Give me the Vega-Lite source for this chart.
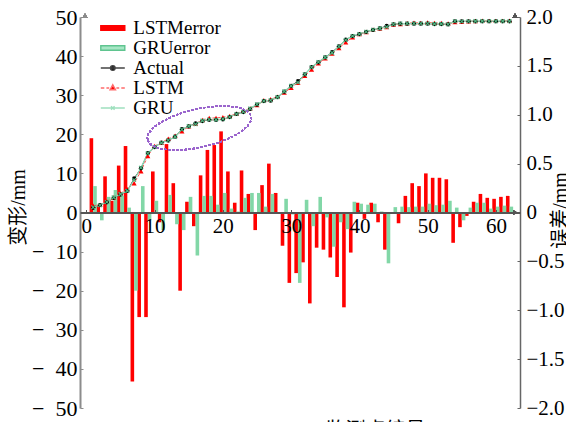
{
  "$schema": "https://vega.github.io/schema/vega-lite/v6.json",
  "width": 440,
  "height": 391,
  "autosize": {"type": "none"},
  "padding": {"left": 80, "top": 17, "right": 46, "bottom": 14},
  "background": "white",
  "config": {"view": {"stroke": null}, "font": "Liberation Serif", "axis": {"grid": false, "labelOverlap": false}},
  "datasets": {
    "d": [
      {"i":1,"a":1.2,"l":1.73,"g":1.34,"le":0.76,"ge":0.27},
      {"i":2,"a":1.9,"l":1.96,"g":1.86,"le":0.08,"ge":-0.08},
      {"i":3,"a":2.6,"l":2.86,"g":2.68,"le":0.37,"ge":0.16},
      {"i":4,"a":3.75,"l":3.83,"g":3.87,"le":0.12,"ge":0.23},
      {"i":5,"a":4.6,"l":4.94,"g":4.69,"le":0.48,"ge":0.17},
      {"i":6,"a":5.5,"l":5.98,"g":5.53,"le":0.68,"ge":0.05},
      {"i":7,"a":8.7,"l":7.49,"g":8.3,"le":-1.73,"ge":-0.8},
      {"i":8,"a":11.3,"l":10.55,"g":11.44,"le":-1.07,"ge":0.27},
      {"i":9,"a":15.2,"l":14.45,"g":15.16,"le":-1.07,"ge":-0.08},
      {"i":10,"a":16.7,"l":16.99,"g":16.76,"le":0.42,"ge":0.12},
      {"i":11,"a":17.9,"l":17.83,"g":17.81,"le":-0.1,"ge":-0.18},
      {"i":12,"a":18.4,"l":18.89,"g":18.49,"le":0.7,"ge":0.18},
      {"i":13,"a":19.4,"l":19.61,"g":19.34,"le":0.3,"ge":-0.12},
      {"i":14,"a":21.3,"l":20.74,"g":21.21,"le":-0.8,"ge":-0.18},
      {"i":15,"a":22.0,"l":22.08,"g":22.08,"le":0.11,"ge":0.16},
      {"i":16,"a":22.8,"l":22.7,"g":22.58,"le":-0.14,"ge":-0.44},
      {"i":17,"a":23.4,"l":23.67,"g":23.49,"le":0.38,"ge":0.17},
      {"i":18,"a":23.7,"l":24.15,"g":23.79,"le":0.64,"ge":0.17},
      {"i":19,"a":23.7,"l":24.18,"g":23.74,"le":0.69,"ge":0.08},
      {"i":20,"a":23.8,"l":24.38,"g":23.9,"le":0.83,"ge":0.2},
      {"i":21,"a":24.4,"l":24.69,"g":24.42,"le":0.42,"ge":0.04},
      {"i":22,"a":25.2,"l":25.27,"g":25.2,"le":0.1,"ge":0.01},
      {"i":23,"a":25.7,"l":26.0,"g":25.78,"le":0.43,"ge":0.15},
      {"i":24,"a":26.5,"l":26.63,"g":26.6,"le":0.19,"ge":0.2},
      {"i":25,"a":27.6,"l":27.47,"g":27.7,"le":-0.18,"ge":0.2},
      {"i":26,"a":28.5,"l":28.7,"g":28.53,"le":0.28,"ge":0.06},
      {"i":27,"a":28.6,"l":28.95,"g":28.7,"le":0.5,"ge":0.19},
      {"i":28,"a":29.5,"l":29.64,"g":29.5,"le":0.2,"ge":0.0},
      {"i":29,"a":30.9,"l":30.66,"g":30.97,"le":-0.34,"ge":0.14},
      {"i":30,"a":32.4,"l":31.9,"g":32.39,"le":-0.72,"ge":-0.02},
      {"i":31,"a":33.6,"l":33.17,"g":33.24,"le":-0.62,"ge":-0.72},
      {"i":32,"a":35.3,"l":34.94,"g":35.37,"le":-0.51,"ge":0.13},
      {"i":33,"a":37.2,"l":36.55,"g":37.13,"le":-0.93,"ge":-0.14},
      {"i":34,"a":38.4,"l":38.15,"g":38.48,"le":-0.36,"ge":0.16},
      {"i":35,"a":39.7,"l":39.43,"g":39.68,"le":-0.38,"ge":-0.05},
      {"i":36,"a":41.0,"l":40.68,"g":40.83,"le":-0.46,"ge":-0.35},
      {"i":37,"a":42.5,"l":42.04,"g":42.45,"le":-0.66,"ge":-0.1},
      {"i":38,"a":44.2,"l":43.52,"g":44.12,"le":-0.97,"ge":-0.17},
      {"i":39,"a":45.1,"l":44.81,"g":45.16,"le":-0.41,"ge":0.11},
      {"i":40,"a":45.6,"l":45.67,"g":45.65,"le":0.1,"ge":0.09},
      {"i":41,"a":46.2,"l":46.15,"g":46.24,"le":-0.065,"ge":0.08},
      {"i":42,"a":46.7,"l":46.77,"g":46.75,"le":0.1,"ge":0.09},
      {"i":43,"a":47.1,"l":47.03,"g":47.1,"le":-0.1,"ge":0.01},
      {"i":44,"a":47.7,"l":47.43,"g":47.44,"le":-0.38,"ge":-0.52},
      {"i":45,"a":48.1,"l":48.1,"g":48.13,"le":0.0,"ge":0.055},
      {"i":46,"a":48.3,"l":48.22,"g":48.33,"le":-0.11,"ge":0.06},
      {"i":47,"a":48.3,"l":48.42,"g":48.33,"le":0.17,"ge":0.055},
      {"i":48,"a":48.3,"l":48.51,"g":48.33,"le":0.3,"ge":0.06},
      {"i":49,"a":48.3,"l":48.49,"g":48.33,"le":0.27,"ge":0.06},
      {"i":50,"a":48.3,"l":48.58,"g":48.35,"le":0.4,"ge":0.09},
      {"i":51,"a":48.2,"l":48.45,"g":48.24,"le":0.355,"ge":0.075},
      {"i":52,"a":48.2,"l":48.45,"g":48.24,"le":0.355,"ge":0.08},
      {"i":53,"a":48.1,"l":48.34,"g":48.16,"le":0.34,"ge":0.12},
      {"i":54,"a":48.9,"l":48.68,"g":48.93,"le":-0.31,"ge":0.05},
      {"i":55,"a":48.9,"l":48.8,"g":48.86,"le":-0.15,"ge":-0.08},
      {"i":56,"a":48.9,"l":48.88,"g":48.93,"le":-0.035,"ge":0.05},
      {"i":57,"a":48.9,"l":48.98,"g":48.95,"le":0.11,"ge":0.1},
      {"i":58,"a":48.9,"l":49.03,"g":48.95,"le":0.19,"ge":0.1},
      {"i":59,"a":48.9,"l":49.0,"g":48.92,"le":0.15,"ge":0.04},
      {"i":60,"a":48.9,"l":49.0,"g":48.93,"le":0.14,"ge":0.06},
      {"i":61,"a":48.9,"l":49.01,"g":48.94,"le":0.16,"ge":0.07},
      {"i":62,"a":48.9,"l":49.02,"g":48.93,"le":0.17,"ge":0.06}
    ],
    "legendItems": [
      {"s": "LSTMerror"}, {"s": "GRUerror"}, {"s": "Actual"}, {"s": "LSTM"}, {"s": "GRU"}
    ]
  },
  "data": {"name": "d"},
  "layer": [
    {
      "layer": [
        {
          "mark": {"type": "bar", "width": 3.6, "xOffset": -1.8, "color": "#ff0000"},
          "encoding": {
            "x": {
              "field": "i", "type": "quantitative",
              "scale": {"domain": [-0.2, 62.8], "nice": false, "zero": false},
              "axis": {
                "orient": "bottom", "offset": -195.5,
                "values": [0, 10, 20, 30, 40, 50, 60], "tickCount": 20,
                "domainColor": "#555555", "domainWidth": 2,
                "tickColor": "#555555", "tickSize": -3, "tickWidth": 1,
                "labelFont": "Liberation Serif", "labelFontSize": 21, "labelColor": "#000000",
                "labelPadding": 6, "labelFlush": false, "labelOverlap": false,
                "title": "监测点编号", "titleFont": "Noto Sans CJK SC", "titleFontSize": 20,
                "titleFontWeight": "normal", "titleColor": "#000000",
                "titleX": 295, "titleY": 208, "titleBaseline": "top", "titleAlign": "center",
                "zindex": 1
              }
            },
            "y": {
              "field": "le", "type": "quantitative",
              "scale": {"domain": [-2, 2], "nice": false},
              "axis": {
                "orient": "right",
                "values": [-2, -1.5, -1, -0.5, 0, 0.5, 1, 1.5, 2], "tickCount": 20,
                "labelExpr": "datum.value == 0 ? '0' : format(datum.value, '.1f')",
                "domainColor": "#666666", "domainWidth": 1.5,
                "tickColor": "#666666", "tickSize": -3,
                "labelFont": "Liberation Serif", "labelFontSize": 21, "labelColor": "#000000",
                "labelPadding": 9, "labelFlush": false, "labelOverlap": false,
                "title": "误差/mm", "titleFont": "Liberation Serif, Noto Sans CJK SC",
                "titleFontSize": 20, "titleFontWeight": "normal", "titleColor": "#000000",
                "titleAngle": -90, "titleX": 40, "titleY": 193,
                "titleAlign": "center", "titleBaseline": "middle"
              }
            }
          }
        },
        {
          "mark": {"type": "bar", "width": 3.6, "xOffset": 1.8, "color": "#82d7a7"},
          "encoding": {
            "x": {"field": "i", "type": "quantitative"},
            "y": {"field": "ge", "type": "quantitative"}
          }
        }
      ]
    },
    {
      "layer": [
        {
          "mark": {"type": "line", "color": "#333333", "strokeWidth": 1},
          "encoding": {
            "x": {"field": "i", "type": "quantitative"},
            "y": {
              "field": "a", "type": "quantitative",
              "scale": {"domain": [-50, 50], "nice": false},
              "axis": {
                "orient": "left",
                "values": [-50, -40, -30, -20, -10, 0, 10, 20, 30, 40, 50], "tickCount": 20,
                "labelExpr": "datum.value < 0 ? '−\u2002' + format(-datum.value, 'd') : format(datum.value, 'd')",
                "domainColor": "#8c8c8c", "domainWidth": 2,
                "tickColor": "#8c8c8c", "tickSize": -3,
                "labelFont": "Liberation Serif", "labelFontSize": 22, "labelColor": "#000000",
                "labelPadding": 6, "labelFlush": false, "labelOverlap": false,
                "title": "变形/mm", "titleFont": "Liberation Serif, Noto Sans CJK SC",
                "titleFontSize": 20, "titleFontWeight": "normal", "titleColor": "#000000",
                "titleAngle": -90, "titleX": -62, "titleY": 190,
                "titleAlign": "center", "titleBaseline": "middle"
              }
            }
          }
        },
        {
          "mark": {"type": "line", "color": "#ff4d4d", "strokeWidth": 1, "strokeDash": [3, 2]},
          "encoding": {
            "x": {"field": "i", "type": "quantitative"},
            "y": {"field": "l", "type": "quantitative"}
          }
        },
        {
          "mark": {"type": "line", "color": "#8fdcb4", "strokeWidth": 1.2},
          "encoding": {
            "x": {"field": "i", "type": "quantitative"},
            "y": {"field": "g", "type": "quantitative"}
          }
        },
        {
          "mark": {"type": "point", "shape": "triangle-up", "filled": true, "color": "#ff0000", "size": 26, "opacity": 1},
          "encoding": {
            "x": {"field": "i", "type": "quantitative"},
            "y": {"field": "l", "type": "quantitative"}
          }
        },
        {
          "mark": {"type": "point", "shape": "circle", "filled": true, "color": "#000000", "size": 18, "opacity": 1},
          "encoding": {
            "x": {"field": "i", "type": "quantitative"},
            "y": {"field": "a", "type": "quantitative"}
          }
        },
        {
          "mark": {"type": "point", "shape": "M-1,-1L1,1M-1,1L1,-1", "filled": false, "color": "#4fb37f", "size": 14, "strokeWidth": 1.2, "opacity": 1},
          "encoding": {
            "x": {"field": "i", "type": "quantitative"},
            "y": {"field": "g", "type": "quantitative"}
          }
        },
        {
          "mark": {
            "type": "point",
            "shape": "M-1,0A1,0.36,0,1,1,1,0A1,0.36,0,1,1,-1,0Z",
            "size": 11236, "angle": 347.4,
            "filled": false, "fill": null, "stroke": "#9a66cc", "strokeWidth": 1.2,
            "strokeDash": [2, 2], "opacity": 1
          },
          "encoding": {
            "x": {"datum": 16.55, "type": "quantitative"},
            "y": {"datum": 21.6, "type": "quantitative"}
          }
        },
        {
          "mark": {"type": "point", "shape": "triangle-up", "filled": true, "color": "#8c8c8c", "size": 22, "opacity": 1},
          "encoding": {
            "x": {"datum": -0.2, "type": "quantitative"},
            "y": {"datum": 50.3, "type": "quantitative"}
          }
        },
        {
          "mark": {"type": "point", "shape": "triangle-up", "filled": true, "color": "#555555", "size": 22, "opacity": 1},
          "encoding": {
            "x": {"datum": 62.8, "type": "quantitative"},
            "y": {"datum": 50.3, "type": "quantitative"}
          }
        },
        {
          "mark": {"type": "point", "shape": "triangle-right", "filled": true, "color": "#555555", "size": 22, "opacity": 1},
          "encoding": {
            "x": {"datum": 62.8, "type": "quantitative"},
            "y": {"datum": 0, "type": "quantitative"}
          }
        },
        {
          "data": {"name": "legendItems"},
          "mark": {"type": "point", "filled": true, "clip": true, "opacity": 1},
          "encoding": {
            "x": {"datum": -20, "type": "quantitative"},
            "y": {"datum": -200, "type": "quantitative"},
            "fill": {
              "field": "s", "type": "nominal",
              "scale": {
                "domain": ["LSTMerror", "GRUerror", "Actual", "LSTM", "GRU"],
                "range": ["#ff0000", "#a6e6c4", "#000000", "#ff0000", "transparent"]
              },
              "legend": {
                "title": null, "orient": "none", "legendX": 23.3, "legendY": 1.5,
                "labelFont": "Liberation Serif", "labelFontSize": 19, "labelColor": "#000000",
                "symbolSize": 256, "symbolStrokeWidth": 1.4, "labelOffset": 11,
                "rowPadding": -0.5, "padding": 0, "symbolOpacity": 1
              }
            },
            "stroke": {
              "field": "s", "type": "nominal",
              "scale": {
                "domain": ["LSTMerror", "GRUerror", "Actual", "LSTM", "GRU"],
                "range": ["#ff0000", "#5fc48f", "#444444", "#ff6b6b", "#9fe0be"]
              },
              "legend": {
                "title": null, "orient": "none", "legendX": 23.3, "legendY": 1.5,
                "labelFont": "Liberation Serif", "labelFontSize": 19, "labelColor": "#000000",
                "symbolSize": 256, "symbolStrokeWidth": 1.4, "labelOffset": 11,
                "rowPadding": -0.5, "padding": 0, "symbolOpacity": 1
              }
            },
            "shape": {
              "field": "s", "type": "nominal",
              "scale": {
                "domain": ["LSTMerror", "GRUerror", "Actual", "LSTM", "GRU"],
                "range": [
                  "M-1.5,-0.28H1.5V0.28H-1.5Z",
                  "M-1.5,-0.28H1.5V0.28H-1.5Z",
                  "M-1.5,0H1.5M-0.29,0A0.29,0.29,0,1,1,0.29,0A0.29,0.29,0,1,1,-0.29,0Z",
                  "M-1.5,0H-1.06M-0.8,0H-0.45M0.45,0H0.8M1.06,0H1.5M0,-0.4L0.34,0.22L-0.34,0.22Z",
                  "M-1.5,0H1.5M-0.22,-0.22L0.22,0.22M-0.22,0.22L0.22,-0.22"
                ]
              },
              "legend": {
                "title": null, "orient": "none", "legendX": 23.3, "legendY": 1.5,
                "labelFont": "Liberation Serif", "labelFontSize": 19, "labelColor": "#000000",
                "symbolSize": 256, "symbolStrokeWidth": 1.4, "labelOffset": 11,
                "rowPadding": -0.5, "padding": 0, "symbolOpacity": 1
              }
            }
          }
        }
      ]
    }
  ],
  "resolve": {"scale": {"y": "independent"}}
}
